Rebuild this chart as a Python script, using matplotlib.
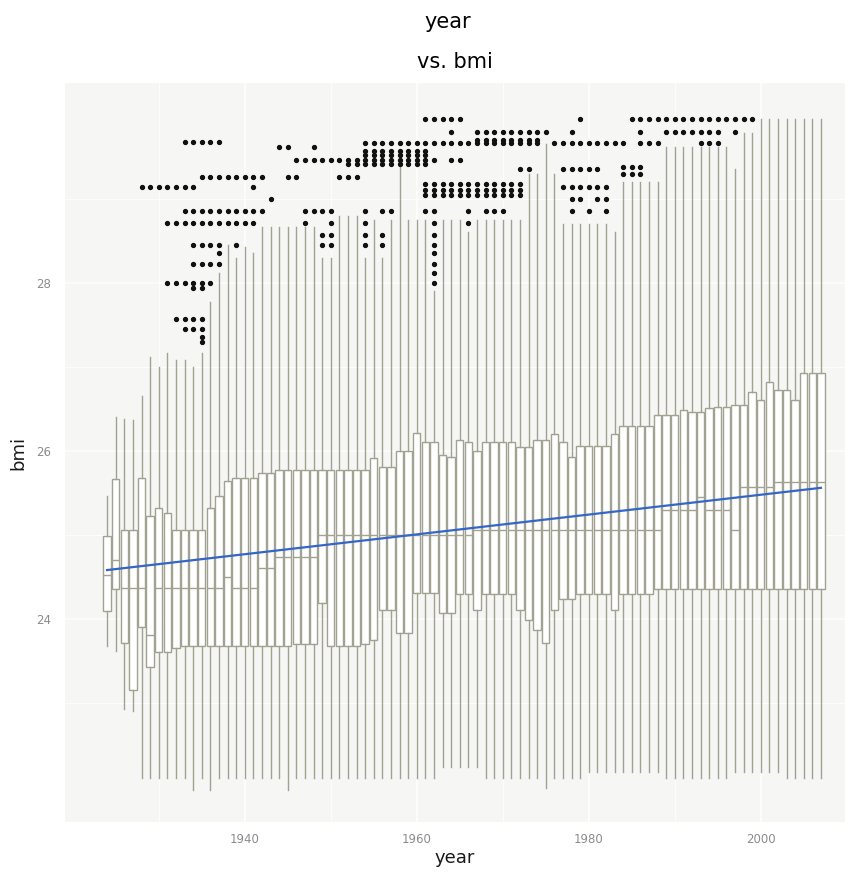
import numpy as np
import matplotlib
matplotlib.use("Agg")
import matplotlib.pyplot as plt

# ---------------- data ----------------
years = list(range(1924, 2008))

whisker_high = [
    25.46, 26.40, 26.38, 26.37, 26.65, 27.12,
    27.00, 27.16, 27.08, 27.08, 27.00, 27.17, 27.77, 28.12, 28.45, 28.30,
    28.43, 28.36, 28.66, 28.66, 28.66, 28.66, 28.66, 28.66, 28.66, 28.30,
    28.30, 28.80, 28.80, 28.80, 28.30, 28.75, 28.30, 28.75, 29.38, 28.75,
    28.75, 28.75, 27.90, 28.75, 28.75, 28.75, 28.60, 28.75, 28.75, 28.75,
    28.75, 28.75, 28.75, 29.30, 29.30, 29.65, 29.30, 28.70, 28.70, 28.70,
    28.70, 28.70, 28.70, 28.60, 29.20, 29.20, 29.20, 29.20, 29.20, 29.62,
    29.62, 29.62, 29.62, 29.62, 29.62, 29.62, 29.62, 29.35, 29.78, 29.78,
    29.95, 29.95, 29.95, 29.95, 29.95, 29.95, 29.95, 29.95,
]

whisker_low = [
    23.67, 23.62, 22.92, 22.90, 22.10, 22.10,
    22.10, 22.10, 22.10, 22.10, 21.96, 22.10, 21.96, 22.10, 22.10, 22.10,
    22.10, 22.10, 22.10, 22.10, 22.10, 21.96, 22.10, 22.10, 22.10, 22.10,
    22.10, 22.10, 22.10, 22.10, 22.10, 22.10, 22.10, 22.10, 22.10, 22.10,
    22.10, 22.10, 22.10, 22.24, 22.24, 22.24, 22.24, 22.24, 22.10, 22.10,
    22.10, 22.10, 22.10, 22.10, 22.10, 21.98, 22.10, 22.10, 22.10, 22.10,
    22.18, 22.18, 22.18, 22.18, 22.18, 22.18, 22.18, 22.18, 22.18, 22.10,
    22.10, 22.10, 22.10, 22.10, 22.10, 22.10, 22.10, 22.18, 22.18, 22.18,
    22.18, 22.18, 22.18, 22.10, 22.10, 22.10, 22.10, 22.10,
]

q1 = [
    24.09, 24.35, 23.71, 23.15, 23.90, 23.43,
    23.60, 23.60, 23.65, 23.67, 23.67, 23.67, 23.67, 23.67, 23.67, 23.67,
    23.67, 23.67, 23.67, 23.67, 23.67, 23.67, 23.70, 23.70, 23.70, 24.19,
    23.67, 23.67, 23.67, 23.67, 23.70, 23.75, 24.10, 24.10, 23.83, 23.83,
    24.31, 24.31, 24.31, 24.07, 24.07, 24.30, 24.30, 24.10, 24.30, 24.30,
    24.30, 24.30, 24.10, 23.99, 23.87, 23.71, 24.10, 24.23, 24.23, 24.30,
    24.30, 24.30, 24.30, 24.10, 24.30, 24.30, 24.30, 24.30, 24.35, 24.35,
    24.35, 24.35, 24.35, 24.35, 24.35, 24.35, 24.35, 24.35, 24.35, 24.35,
    24.35, 24.35, 24.35, 24.35, 24.35, 24.35, 24.35, 24.35,
]

median = [
    24.52, 24.70, 24.37, 24.37, 24.37, 23.81,
    24.37, 24.37, 24.37, 24.37, 24.37, 24.37, 24.37, 24.37, 24.50, 24.37,
    24.37, 24.37, 24.60, 24.60, 24.74, 24.74, 24.74, 24.74, 24.74, 25.00,
    25.00, 25.00, 25.00, 25.00, 25.00, 25.00, 25.00, 25.00, 25.00, 25.00,
    25.00, 25.00, 25.00, 25.00, 25.00, 25.00, 25.00, 25.06, 25.06, 25.06,
    25.06, 25.06, 25.06, 25.06, 25.06, 25.06, 25.06, 25.06, 25.06, 25.06,
    25.06, 25.06, 25.06, 25.06, 25.06, 25.06, 25.06, 25.06, 25.06, 25.30,
    25.30, 25.30, 25.30, 25.45, 25.30, 25.30, 25.30, 25.06, 25.57, 25.57,
    25.57, 25.57, 25.63, 25.63, 25.63, 25.63, 25.63, 25.63,
]

q3 = [
    24.98, 25.66, 25.06, 25.06, 25.68, 25.22,
    25.32, 25.26, 25.06, 25.06, 25.06, 25.06, 25.32, 25.46, 25.64, 25.68,
    25.68, 25.68, 25.74, 25.74, 25.77, 25.77, 25.77, 25.77, 25.77, 25.77,
    25.77, 25.77, 25.77, 25.77, 25.77, 25.92, 25.81, 25.81, 26.00, 26.00,
    26.21, 26.10, 26.10, 25.95, 25.93, 26.13, 26.10, 26.00, 26.10, 26.10,
    26.10, 26.10, 26.04, 26.04, 26.13, 26.13, 26.20, 26.10, 25.93, 26.06,
    26.06, 26.06, 26.06, 26.20, 26.29, 26.29, 26.29, 26.29, 26.43, 26.43,
    26.43, 26.49, 26.46, 26.46, 26.51, 26.52, 26.52, 26.55, 26.55, 26.70,
    26.60, 26.82, 26.73, 26.73, 26.60, 26.93, 26.93, 26.93,
]


def span(a, b):
    return list(range(a, b + 1))


# outliers: one bmi value per row, with the years that show a dot at it
outlier_values = [
    29.95, 29.80, 29.70, 29.68, 29.66, 29.62, 29.57, 29.52, 29.46, 29.42,
    29.38, 29.35, 29.30, 29.26, 29.18, 29.14, 29.11, 29.05, 29.00, 28.86,
    28.71, 28.57, 28.45, 28.35, 28.23, 28.12, 28.00, 27.94, 27.57, 27.45,
    27.36, 27.30,
]
outlier_years = [
    span(1961, 1965) + [1979] + span(1985, 1999),
    [1964] + span(1967, 1975) + [1978, 1986] + span(1989, 1995) + [1997],
    span(1967, 1974),
    span(1933, 1937),
    span(1954, 1974) + span(1976, 1984) + span(1986, 1988) + span(1993, 1995),
    [1944, 1945, 1948],
    span(1954, 1961),
    span(1954, 1961),
    span(1946, 1962) + [1964, 1965],
    span(1952, 1961),
    span(1984, 1986),
    [1972, 1973] + span(1977, 1981),
    span(1984, 1986),
    span(1935, 1942) + [1945, 1946] + span(1951, 1953),
    span(1961, 1972),
    span(1928, 1934) + [1941] + span(1977, 1982),
    span(1961, 1972),
    span(1961, 1972),
    [1943, 1978, 1979, 1981, 1982],
    span(1933, 1942) + span(1947, 1950) + [1954, 1956, 1957, 1961, 1962, 1966]
    + span(1968, 1970) + [1978, 1980, 1982],
    span(1931, 1941) + [1947, 1950, 1954, 1962, 1966],
    [1949, 1950, 1954, 1956, 1962],
    span(1934, 1937) + [1939, 1949, 1950, 1954, 1956, 1962],
    [1937, 1962],
    span(1934, 1937) + [1962],
    [1962],
    span(1931, 1936) + [1962],
    [1934, 1935],
    span(1932, 1935),
    span(1933, 1935),
    [1935],
    [1935],
]

# linear trend (geom_smooth lm)
trend_start_year = 1924
trend_start_value = 24.58
trend_slope = 0.0118

# ---------------- figure ----------------
W, H = 853, 883
fig = plt.figure(figsize=(W / 100, H / 100), dpi=100)
ax = fig.add_axes([65 / W, 1 - 822 / H, 780 / W, (822 - 83) / H])

panel = "#f6f6f4"
box_col = "#a2a292"
ax.set_facecolor(panel)
for s in ax.spines.values():
    s.set_visible(False)

fliers = {y: [] for y in years}
for v, ys in zip(outlier_values, outlier_years):
    for y in ys:
        if y in fliers:
            fliers[y].append(v)

stats = []
for i, y in enumerate(years):
    stats.append(dict(whislo=whisker_low[i], q1=q1[i], med=median[i],
                      q3=q3[i], whishi=whisker_high[i], fliers=fliers[y],
                      label=str(y)))

ax.bxp(stats, positions=years, widths=0.86, patch_artist=True,
       showcaps=False, manage_ticks=False,
       boxprops=dict(facecolor="white", edgecolor=box_col, linewidth=1.0),
       whiskerprops=dict(color=box_col, linewidth=1.0),
       medianprops=dict(color=box_col, linewidth=1.0),
       flierprops=dict(marker="o", markerfacecolor="#111111",
                       markeredgecolor="#111111", markersize=2.8,
                       linestyle="none"))

tx = np.array([years[0], years[-1]])
ty = trend_start_value + trend_slope * (tx - trend_start_year)
ax.plot(tx, ty, color="#3466c8", linewidth=1.6, zorder=5)

ax.set_xlim(1919.1, 2009.8)
ax.set_ylim(21.58, 30.38)
ax.set_xticks([1940, 1960, 1980, 2000])
ax.set_yticks([24, 26, 28])
ax.set_xticks([1930, 1950, 1970, 1990], minor=True)
ax.set_yticks([23, 25, 27, 29], minor=True)
ax.set_axisbelow(True)
ax.grid(which="major", color="white", linewidth=1.1)
ax.grid(which="minor", color="white", linewidth=0.6)
ax.tick_params(which="both", length=0, labelsize=8.5, labelcolor="#8c8c8c")
ax.tick_params(axis="x", pad=8)
ax.tick_params(axis="y", pad=10)

ax.set_xlabel("year", fontsize=13, color="#1a1a1a", labelpad=2)
ax.set_ylabel("bmi", fontsize=13, color="#1a1a1a", labelpad=6)
fig.text(0.525, 1 - 22 / H, "year", ha="center", va="center", fontsize=15)
fig.text(0.533, 1 - 62 / H, "vs. bmi", ha="center", va="center", fontsize=15)

fig.savefig("out.png", dpi=100)
